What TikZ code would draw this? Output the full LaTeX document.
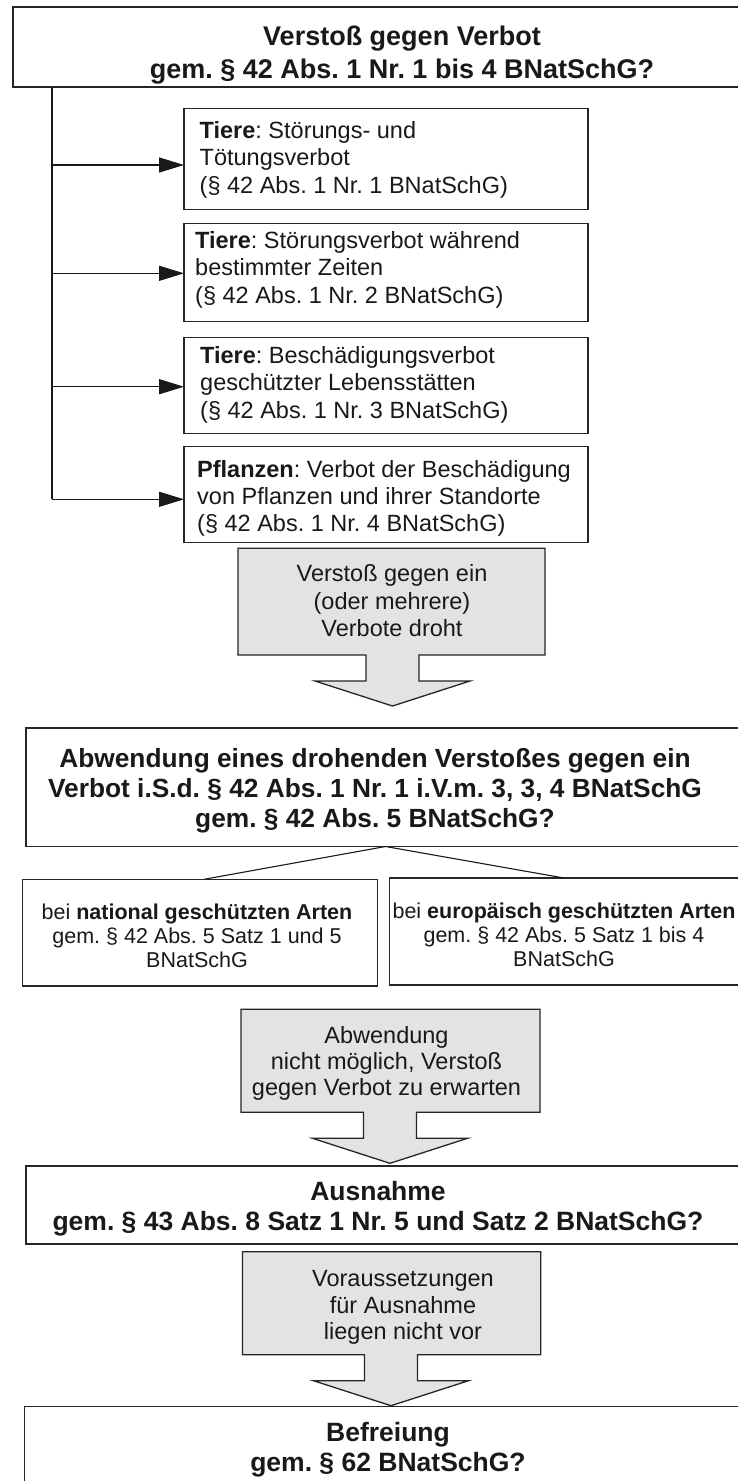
\documentclass[tikz,border=0pt]{standalone}
\usepackage{fontspec}
\setmainfont{Liberation Sans}
\usetikzlibrary{arrows.meta,calc}
\frenchspacing
% callout: #1,#2 = top-left, #3,#4 = bottom-right, #5 = arrow centre x
\newcommand{\callshape}[5]{%
  \draw[callout] (#1,#2) -- (#3,#2) -- (#3,#4) -- ({#5+26.5},#4) -- ({#5+26.5},{#4+26})
    -- ({#5+77.5},{#4+26}) -- (#5,{#4+51}) -- ({#5-77.5},{#4+26}) -- ({#5-26.5},{#4+26})
    -- ({#5-26.5},#4) -- (#1,#4) -- cycle;}
\begin{document}
\begin{tikzpicture}[x=1pt,y=-1pt,
  box/.style={draw=black!85, line width=1.3pt, fill=white, inner sep=0pt, outer sep=0pt, anchor=north west},
  openbox/.style={fill=white, inner sep=0pt, outer sep=0pt, anchor=north west},
  boxline/.style={draw=black!85, line width=1.3pt},
  titletext/.style={inner sep=0pt, anchor=north, align=center, text=black!90},
  bodyleft/.style={inner sep=0pt, anchor=north west, align=left, text=black!90, font=\fontsize{23.5}{27.3}\selectfont},
  bodycenter/.style={inner sep=0pt, anchor=north, align=center, text=black!90},
  callout/.style={draw=black!85, line width=1.3pt, fill=black!11, line join=miter},
  link/.style={draw=black!90, line width=1.4pt},
  arr/.style={link, -{Triangle[length=25pt,width=15pt]}},
  fork/.style={draw=black!90, line width=1.1pt}]
\useasboundingbox (0,0) rectangle (738,1481);
\fill[white] (0,0) rectangle (738,1481);
\clip (0,0) rectangle (738,1481);

% top box (runs past the right edge)
\node[openbox, minimum width=800pt, minimum height=80pt] (top) at (13,7) {};
\draw[boxline] (top.north east) -- (top.north west) -- (top.south west) -- (top.south east);
\node[titletext, font=\bfseries\fontsize{27}{33}\selectfont] (topT) at (402,25.4)
  {Verstoß gegen Verbot\\gem. § 42 Abs. 1 Nr. 1 bis 4 BNatSchG?};

% prohibition boxes
\node[box, minimum width=404pt, minimum height=100.8pt] (t1) at (184,108.5) {};
\node[box, minimum width=404pt, minimum height=98.4pt] (t2) at (184,223.3) {};
\node[box, minimum width=404pt, minimum height=95.6pt] (t3) at (184,337.7) {};
\node[box, minimum width=404pt, minimum height=96pt] (t4) at (184,446.7) {};
\node[bodyleft] (t1T) at (199.5,121.3) {\textbf{Tiere}: Störungs- und\\Tötungsverbot\\(§ 42 Abs. 1 Nr. 1 BNatSchG)};
\node[bodyleft] (t2T) at (195,231.3) {\textbf{Tiere}: Störungsverbot während\\bestimmter Zeiten\\(§ 42 Abs. 1 Nr. 2 BNatSchG)};
\node[bodyleft] (t3T) at (200,346.3) {\textbf{Tiere}: Beschädigungsverbot\\geschützter Lebensstätten\\(§ 42 Abs. 1 Nr. 3 BNatSchG)};
\node[bodyleft] (t4T) at (197,459.8) {\textbf{Pflanzen}: Verbot der Beschädigung\\von Pflanzen und ihrer Standorte\\(§ 42 Abs. 1 Nr. 4 BNatSchG)};

% trunk and arrows
\coordinate (j1) at (52,165);
\coordinate (j2) at (52,273.3);
\coordinate (j3) at (52,386.7);
\coordinate (j4) at (52,499.3);
\draw[link] (j4 |- top.south) -- (j4);
\draw[arr] (j1) -- (j1 -| t1.west);
\draw[arr] (j2) -- (j2 -| t2.west);
\draw[arr] (j3) -- (j3 -| t3.west);
\draw[arr] (j4) -- (j4 -| t4.west);

% callout 1
\callshape{238}{548.3}{545}{655}{392.5}
\node[bodycenter, font=\fontsize{23.5}{27.5}\selectfont] (g1T) at (392,564.4)
  {Verstoß gegen ein\\(oder mehrere)\\Verbote droht};

% Abwendung box
\node[openbox, minimum width=780pt, minimum height=118.5pt] (abw) at (26,728) {};
\draw[boxline] (abw.north east) -- (abw.north west) -- (abw.south west) -- (abw.south east);
\node[titletext, font=\bfseries\fontsize{26.3}{30}\selectfont] (abwT) at (375,747.9)
  {Abwendung eines drohenden Verstoßes gegen ein\\Verbot i.S.d. § 42 Abs. 1 Nr. 1 i.V.m. 3, 3, 4 BNatSchG\\gem. § 42 Abs. 5 BNatSchG?};

% sub boxes
\node[box, minimum width=355pt, minimum height=106.7pt] (nat) at (22.6,879.3) {};
\node[openbox, minimum width=420pt, minimum height=107pt] (eur) at (389.5,878) {};
\draw[boxline] (eur.north east) -- (eur.north west) -- (eur.south west) -- (eur.south east);
\node[bodycenter, font=\fontsize{21.5}{23.8}\selectfont] (natT) at (197,903.9)
  {bei \textbf{national geschützten Arten}\\gem. § 42 Abs. 5 Satz 1 und 5\\BNatSchG};
\node[bodycenter, font=\fontsize{21.5}{24}\selectfont] (eurT) at (564,902.5)
  {bei \textbf{europäisch geschützten Arten}\\gem. § 42 Abs. 5 Satz 1 bis 4\\BNatSchG};

% fork
\coordinate (apex) at ($(abw.south west)+(359.5,0)$);
\coordinate (fl) at ($(nat.north west)+(181.4,0)$);
\coordinate (fr) at ($(eur.north west)+(174.5,0)$);
\draw[fork] (apex) -- (fl);
\draw[fork] (apex) -- (fr);

% callout 2
\callshape{241}{1009.3}{540}{1112.3}{390}
\node[bodycenter, font=\fontsize{23.5}{25.8}\selectfont] (g2T) at (386.5,1026.7)
  {Abwendung\\nicht möglich, Verstoß\\gegen Verbot zu erwarten};

% Ausnahme
\node[openbox, minimum width=780pt, minimum height=78pt] (aus) at (26,1166) {};
\draw[boxline] (aus.north east) -- (aus.north west) -- (aus.south west) -- (aus.south east);
\node[titletext, font=\bfseries\fontsize{26.5}{30}\selectfont] (ausT) at (378,1181)
  {Ausnahme\\gem. § 43 Abs. 8 Satz 1 Nr. 5 und Satz 2 BNatSchG?};

% callout 3
\callshape{242.4}{1251.7}{540.7}{1354.7}{391}
\node[bodycenter, font=\fontsize{23.5}{26.5}\selectfont] (g3T) at (403,1270.2)
  {Voraussetzungen\\für Ausnahme\\liegen nicht vor};

% Befreiung
\node[openbox, minimum width=780pt, minimum height=120pt] (bef) at (24.5,1406.7) {};
\draw[boxline] (bef.north east) -- (bef.north west) -- (bef.south west);
\node[titletext, font=\bfseries\fontsize{26.5}{30}\selectfont] (befT) at (388,1422)
  {Befreiung\\gem. § 62 BNatSchG?};
\end{tikzpicture}
\end{document}
